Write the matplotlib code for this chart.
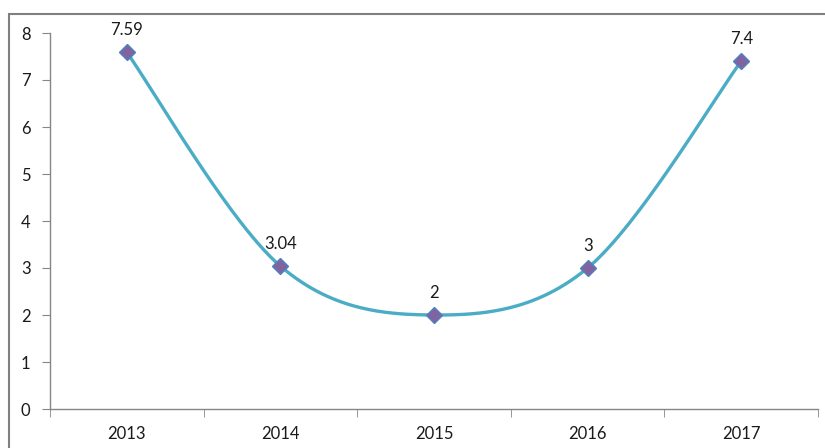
import numpy as np
import matplotlib.pyplot as plt
from matplotlib.patches import Rectangle

years = ['2013', '2014', '2015', '2016', '2017']
values = [7.59, 3.04, 2, 3, 7.4]
labels = ['7.59', '3.04', '2', '3', '7.4']

plt.rcParams['font.family'] = ['Lato', 'DejaVu Sans']


def smooth(x, y, n=60):
    # Bezier smoothing through the points (Catmull-Rom style, like a spreadsheet "smoothed line")
    x = np.asarray(x, float)
    y = np.asarray(y, float)
    px = np.concatenate([[x[0]], x, [x[-1]]])
    py = np.concatenate([[y[0]], y, [y[-1]]])
    xs, ys = [], []
    t = np.linspace(0, 1, n)
    for i in range(1, len(px) - 2):
        p0 = np.array([px[i], py[i]])
        p3 = np.array([px[i + 1], py[i + 1]])
        c1 = p0 + (np.array([px[i + 1], py[i + 1]]) - np.array([px[i - 1], py[i - 1]])) / 6
        c2 = p3 - (np.array([px[i + 2], py[i + 2]]) - np.array([px[i], py[i]])) / 6
        b = ((1 - t) ** 3)[:, None] * p0 + (3 * (1 - t) ** 2 * t)[:, None] * c1 \
            + (3 * (1 - t) * t ** 2)[:, None] * c2 + (t ** 3)[:, None] * p3
        xs.extend(b[:, 0])
        ys.extend(b[:, 1])
    return np.array(xs), np.array(ys)


fig = plt.figure(figsize=(8.25, 4.48), dpi=100)
ax = fig.add_axes([50 / 825, 1 - 409 / 448, 768 / 825, 376 / 448])

xpos = np.arange(len(years))
sx, sy = smooth(xpos, values)
ax.plot(sx, sy, color='#4BACC6', linewidth=2.4, solid_capstyle='round', zorder=2)
ax.plot(xpos, values, linestyle='none', marker='D', markersize=8,
        markerfacecolor='#8064A2', markeredgecolor='#4F81BD', markeredgewidth=1, zorder=3)

for xi, v, lab in zip(xpos, values, labels):
    ax.annotate(lab, (xi, v), xytext=(0, 10), textcoords='offset points',
                ha='center', va='bottom', fontsize=12, color='#1a1a1a')

ax.set_xlim(-0.5, len(years) - 0.5)
ax.set_ylim(0, 8)
ax.set_yticks(range(0, 9))
ax.set_xticks(xpos)
ax.set_xticklabels(years)
ax.set_xticks(np.arange(-0.5, len(years)), minor=True)
ax.tick_params(axis='x', which='major', length=0, pad=12, labelsize=12, labelcolor='#1a1a1a')
ax.tick_params(axis='x', which='minor', length=6, color='#868686', direction='out')
ax.tick_params(axis='y', length=6, color='#868686', labelsize=12, labelcolor='#1a1a1a', pad=8)

for side in ['top', 'right']:
    ax.spines[side].set_visible(False)
for side in ['left', 'bottom']:
    ax.spines[side].set_color('#868686')
    ax.spines[side].set_linewidth(1)

# chart frame
fig.patches.append(Rectangle((9 / 825, -0.05), 1, 1 - 14 / 448 + 0.05, transform=fig.transFigure,
                             fill=False, edgecolor='#7f7f7f', linewidth=1.5, clip_on=False))

fig.savefig('out.png', dpi=100)
